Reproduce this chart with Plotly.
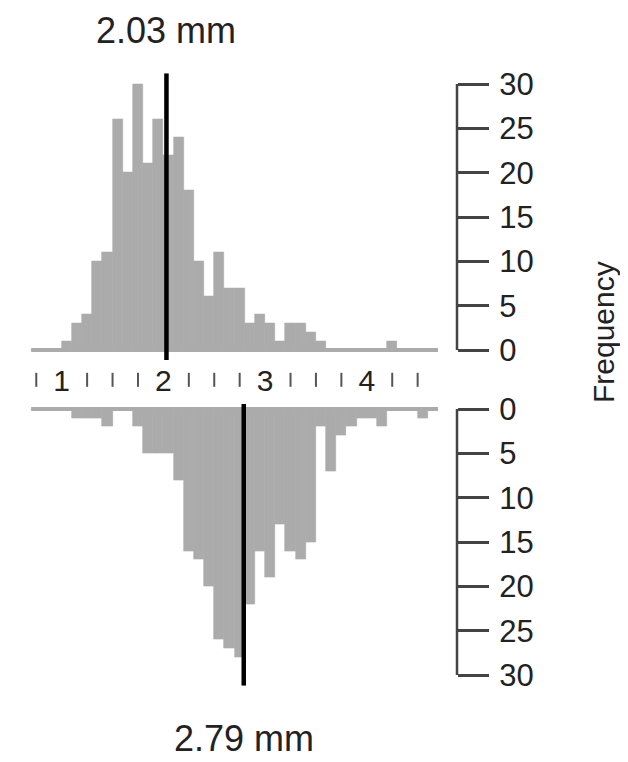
import plotly.graph_objects as go

# ---------------- data ----------------
bin_start = 0.7
bin_width = 0.1
upper_counts = [0, 0, 0, 1, 3, 4, 10, 11, 26, 20, 30, 21, 26, 22, 24, 18, 10, 6, 11, 7,
                7, 3, 4, 3, 1, 3, 3, 2, 1, 0, 0, 0, 0, 0, 0, 1, 0, 0, 0, 0]
lower_counts = [0, 0, 0, 0, 1, 1, 1, 2, 0, 0, 2, 5, 5, 5, 8, 16, 17, 20, 26, 27,
                28, 22, 16, 19, 13, 16, 17, 15, 2, 7, 3, 2, 1, 1, 2, 0, 0, 0, 1, 0]
upper_mean = 2.03
lower_mean = 2.79
upper_label = "2.03 mm"
lower_label = "2.79 mm"
x_tick_labels = ["1", "2", "3", "4"]
x_tick_values = [1, 2, 3, 4]
minor_tick_values = [0.75, 1.25, 1.5, 1.75, 2.25, 2.5, 2.75, 3.25, 3.5, 3.75, 4.25, 4.5]
freq_ticks = [0, 5, 10, 15, 20, 25, 30]
y_title = "Frequency"

# ---------------- layout helpers ----------------
OFF = 8                     # page body margin added by the browser
W, H = 628 - OFF, 762 - OFF
ML = 11 - OFF
MR = W - (457 - OFF)
X_RANGE = [0.5015, 4.887]
Y_RANGE = [-1.2, 31.2]
FONT = "Liberation Sans, Arial, sans-serif"
BAR = "#ABABAB"
AX = "#444444"
TXT = "#222222"


def py(px):
    """screen pixel (from top of window) -> paper y"""
    return 1 - (px - OFF) / H


def pxx(px):
    """screen pixel (from left of window) -> paper x"""
    return (px - OFF - ML) / (W - ML - MR)


centers = [bin_start + bin_width * (i + 0.5) for i in range(len(upper_counts))]
edges = [bin_start, bin_start + bin_width * len(upper_counts)]

fig = go.Figure()

# upper histogram
fig.add_trace(go.Bar(x=centers, y=upper_counts, width=bin_width, xaxis="x", yaxis="y",
                     marker=dict(color=BAR, line=dict(color=BAR, width=0.6)),
                     showlegend=False, hoverinfo="skip"))
fig.add_trace(go.Scatter(x=edges, y=[0, 0], xaxis="x", yaxis="y", mode="lines",
                         line=dict(color=BAR, width=4), showlegend=False, hoverinfo="skip"))
fig.add_trace(go.Scatter(x=[upper_mean, upper_mean], y=Y_RANGE, xaxis="x", yaxis="y",
                         mode="lines", line=dict(color="black", width=4.5),
                         showlegend=False, hoverinfo="skip", cliponaxis=False))

# lower histogram
fig.add_trace(go.Bar(x=centers, y=lower_counts, width=bin_width, xaxis="x", yaxis="y2",
                     marker=dict(color=BAR, line=dict(color=BAR, width=0.6)),
                     showlegend=False, hoverinfo="skip"))
fig.add_trace(go.Scatter(x=edges, y=[0, 0], xaxis="x", yaxis="y2", mode="lines",
                         line=dict(color=BAR, width=4), showlegend=False, hoverinfo="skip"))
fig.add_trace(go.Scatter(x=[lower_mean, lower_mean], y=Y_RANGE, xaxis="x", yaxis="y2",
                         mode="lines", line=dict(color="black", width=4.5),
                         showlegend=False, hoverinfo="skip", cliponaxis=False))

# middle scale (mm)
fig.add_trace(go.Scatter(x=minor_tick_values, y=[0.55] * len(minor_tick_values),
                         xaxis="x", yaxis="y3", mode="markers",
                         marker=dict(symbol="line-ns", size=10, line=dict(color="#555555", width=2)),
                         showlegend=False, hoverinfo="skip", cliponaxis=False))
fig.add_trace(go.Scatter(x=x_tick_values, y=[0.47] * len(x_tick_values), text=x_tick_labels,
                         xaxis="x", yaxis="y3", mode="text",
                         textfont=dict(family=FONT, size=30, color=TXT),
                         showlegend=False, hoverinfo="skip", cliponaxis=False))

yax_common = dict(side="right", anchor="x", tickmode="array", tickvals=freq_ticks,
                  ticks="outside", ticklen=31, tickwidth=2.5, tickcolor=AX,
                  showline=False, showgrid=False, zeroline=False,
                  tickfont=dict(family=FONT, size=31, color=TXT),
                  ticklabelstandoff=4, automargin=False)

fig.update_layout(
    width=W, height=H,
    margin=dict(l=ML, r=MR, t=0, b=0, autoexpand=False),
    paper_bgcolor="white", plot_bgcolor="white",
    xaxis=dict(range=X_RANGE, domain=[0, 1], visible=False, anchor="y"),
    yaxis=dict(domain=[py(360.64), py(73.36)], range=Y_RANGE, **yax_common),
    yaxis2=dict(domain=[py(685.64), py(398.36)], range=Y_RANGE[::-1], **yax_common),
    yaxis3=dict(domain=[py(404), py(360)], range=[0, 1], visible=False, anchor="x"),
    bargap=0,
    shapes=[
        dict(type="line", xref="paper", yref="y", x0=1, x1=1, y0=freq_ticks[0], y1=freq_ticks[-1],
             line=dict(color=AX, width=2.5)),
        dict(type="line", xref="paper", yref="y2", x0=1, x1=1, y0=freq_ticks[0], y1=freq_ticks[-1],
             line=dict(color=AX, width=2.5)),
    ],
    annotations=[
        dict(text=upper_label, x=upper_mean, xref="x", y=1, yref="paper",
             showarrow=False, font=dict(family=FONT, size=36, color=TXT),
             xanchor="center", yanchor="top"),
        dict(text=lower_label, x=lower_mean, xref="x", y=py(738), yref="paper",
             showarrow=False, font=dict(family=FONT, size=36, color=TXT),
             xanchor="center", yanchor="middle"),
        dict(text=y_title, x=pxx(603), xref="paper", y=py(332), yref="paper",
             showarrow=False, textangle=-90, font=dict(family=FONT, size=30, color=TXT),
             xanchor="center", yanchor="middle"),
    ],
)

fig.write_html("out.html")
